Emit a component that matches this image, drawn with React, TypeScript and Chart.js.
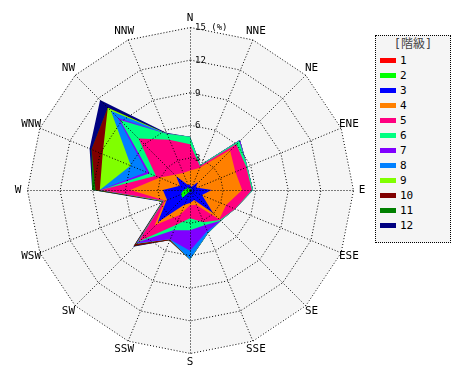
import React, { useEffect, useRef } from 'react';
import { Chart, registerables } from 'chart.js';

Chart.register(...registerables);

// 16 wind directions, clockwise from North
const directions = ['N', 'NNE', 'NE', 'ENE', 'E', 'ESE', 'SE', 'SSE', 'S', 'SSW', 'SW', 'WSW', 'W', 'WNW', 'NW', 'NNW'];

// class (階級) labels and colours
const classLabels = ['1', '2', '3', '4', '5', '6', '7', '8', '9', '10', '11', '12'];
const classColors = ['#ff0000', '#00ff00', '#0000ff', '#ff8000', '#ff0080', '#00ff80', '#8000ff', '#0080ff', '#80ff00', '#800000', '#008000', '#000080'];

// frequency (%) of each class per direction (N, NNE, NE, ENE, E, ESE, SE, SSE, S, SSW, SW, WSW, W, WNW, NW, NNW)
const class1 = [0.1, 0.0, 0.1, 0.0, 0.1, 0.0, 0.1, 0.0, 0.1, 0.0, 0.1, 0.1, 0.1, 0.0, 0.1, 0.0];
const class2 = [0.1, 0.1, 0.1, 0.1, 0.1, 0.1, 0.2, 0.1, 0.1, 0.2, 0.9, 0.8, 0.5, 0.3, 0.3, 0.1];
const class3 = [0.3, 0.2, 0.8, 0.5, 1.8, 1.1, 2.7, 0.9, 1.0, 1.3, 3.2, 1.4, 1.9, 0.7, 1.4, 0.4];
const class4 = [1.3, 1.9, 4.2, 3.9, 2.8, 2.4, 0.8, 0.5, 0.2, 1.0, 0.4, 0.2, 3.0, 2.0, 0.2, 1.2];
const class5 = [2.4, 0.2, 0.8, 1.1, 0.9, 0.9, 0.1, 1.7, 1.2, 1.0, 2.1, 0.1, 2.7, 0.4, 4.7, 3.3];
const class6 = [0.7, 0.1, 0.4, 0.1, 0.1, 0.0, 0.1, 0.3, 1.1, 0.5, 0.1, 0.0, 0.0, 0.6, 2.4, 0.6];
const class7 = [0.0, 0.0, 0.1, 0.0, 0.0, 0.0, 0.0, 0.6, 1.9, 0.9, 0.1, 0.0, 0.1, 0.3, 0.3, 0.0];
const class8 = [0.0, 0.0, 0.0, 0.0, 0.0, 0.0, 0.0, 0.2, 0.8, 0.0, 0.1, 0.0, 0.0, 1.6, 0.9, 0.0];
const class9 = [0.0, 0.0, 0.0, 0.0, 0.0, 0.0, 0.0, 0.0, 0.0, 0.0, 0.0, 0.1, 0.0, 2.8, 0.4, 0.0];
const class10 = [0.0, 0.0, 0.0, 0.0, 0.0, 0.0, 0.0, 0.0, 0.0, 0.1, 0.3, 0.0, 0.4, 1.1, 0.0, 0.0];
const class11 = [0.0, 0.0, 0.0, 0.0, 0.0, 0.0, 0.0, 0.0, 0.0, 0.0, 0.0, 0.0, 0.3, 0.0, 0.0, 0.0];
const class12 = [0.0, 0.0, 0.0, 0.0, 0.0, 0.0, 0.0, 0.0, 0.0, 0.0, 0.1, 0.1, 0.0, 0.2, 1.0, 0.1];

// radial axis
const axisMax = 15;
const tickValues = [3, 6, 9, 12, 15];
const tickLabels = ['3', '6', '9', '12', '15 (%)'];
const legendTitle = '[階級]';

const seriesValues = [class1, class2, class3, class4, class5, class6, class7, class8, class9, class10, class11, class12];

const MONO = '"DejaVu Sans Mono", "Liberation Mono", monospace';

function stackedSeries(): number[][] {
  const out: number[][] = [];
  let run = directions.map(() => 0);
  seriesValues.forEach((vals) => {
    run = run.map((v, i) => +(v + vals[i]).toFixed(3));
    out.push(run.slice());
  });
  return out;
}

const backgroundPlugin = {
  id: 'roseBackground',
  beforeDatasetsDraw(chart: any) {
    const s = chart.scales.r;
    const ctx = chart.ctx;
    const dist = s.getDistanceFromCenterForValue(axisMax);
    ctx.save();
    ctx.beginPath();
    for (let i = 0; i < directions.length; i++) {
      const p = s.getPointPosition(i, dist);
      if (i === 0) ctx.moveTo(p.x, p.y);
      else ctx.lineTo(p.x, p.y);
    }
    ctx.closePath();
    ctx.fillStyle = '#f5f5f5';
    ctx.fill();
    ctx.restore();
  },
  afterDatasetsDraw(chart: any) {
    // crisp 1px dotted grid drawn on top of the areas
    chart.ctx.save();
    chart.ctx.translate(0.5, 0.5);
  },
  afterDraw(chart: any) {
    chart.ctx.restore();
    const s = chart.scales.r;
    const ctx = chart.ctx;
    ctx.save();
    ctx.fillStyle = '#000';
    // direction labels
    ctx.font = `11px ${MONO}`;
    ctx.textAlign = 'center';
    ctx.textBaseline = 'middle';
    const outer = s.getDistanceFromCenterForValue(axisMax);
    directions.forEach((d, i) => {
      const p = s.getPointPosition(i, outer + 9);
      ctx.fillText(d, p.x, p.y);
    });
    // tick labels along the north axis
    ctx.font = `9px ${MONO}`;
    ctx.textAlign = 'left';
    tickValues.forEach((v, i) => {
      const r = s.getDistanceFromCenterForValue(v);
      ctx.fillText(tickLabels[i], s.xCenter + 5, s.yCenter - r + 1);
    });
    ctx.restore();
  },
};

export default function App() {
  const ref = useRef<HTMLCanvasElement | null>(null);

  useEffect(() => {
    if (!ref.current) return;
    const stacked = stackedSeries();
    const chart = new Chart(ref.current, {
      type: 'radar',
      data: {
        labels: directions,
        datasets: stacked.map((vals, k) => ({
          label: classLabels[k],
          data: vals,
          backgroundColor: classColors[k],
          borderColor: 'rgba(0,0,0,0)',
          borderWidth: 0,
          pointRadius: 0,
          pointHoverRadius: 0,
          fill: 'origin',
          tension: 0,
        })),
      },
      options: {
        responsive: false,
        animation: false,
        devicePixelRatio: 1,
        layout: { padding: { left: 27, top: 27, right: 117, bottom: 27 } },
        plugins: {
          legend: { display: false },
          tooltip: { enabled: false },
        },
        scales: {
          r: {
            min: 0,
            max: axisMax,
            ticks: { display: false, stepSize: 3 },
            grid: { color: '#000', lineWidth: 1, z: 1 },
            border: { dash: [1, 2] },
            angleLines: { display: true, color: '#000', lineWidth: 1, borderDash: [1, 2] },
            pointLabels: { display: false },
          },
        },
      } as any,
      plugins: [backgroundPlugin],
    });
    return () => chart.destroy();
  }, []);

  return (
    <div style={{ position: 'fixed', left: 0, top: 0, width: 470, height: 380, background: '#fff' }}>
      <canvas ref={ref} width={470} height={380} style={{ position: 'absolute', left: 0, top: 0 }} />
      <div
        style={{
          position: 'absolute',
          left: 375,
          top: 35,
          width: 74,
          height: 206,
          border: '1px dotted #000',
          background: '#f5f5f5',
        }}
      >
        <div
          style={{
            position: 'absolute',
            left: 0,
            top: 1,
            width: 74,
            textAlign: 'center',
            font: `12px ${MONO}, "Noto Sans CJK JP"`,
            lineHeight: '14px',
            color: '#444',
          }}
        >
          {legendTitle}
        </div>
        {classLabels.map((lab, i) => (
          <div key={lab} style={{ position: 'absolute', left: 4, top: 17 + 15 * i, height: 15, width: 68 }}>
            <div
              style={{
                position: 'absolute',
                left: 0,
                top: 5,
                width: 16,
                height: 5,
                background: classColors[i],
              }}
            />
            <div
              style={{
                position: 'absolute',
                left: 20,
                top: 0,
                font: `11px ${MONO}`,
                lineHeight: '15px',
                color: '#000',
              }}
            >
              {lab}
            </div>
          </div>
        ))}
      </div>
    </div>
  );
}
